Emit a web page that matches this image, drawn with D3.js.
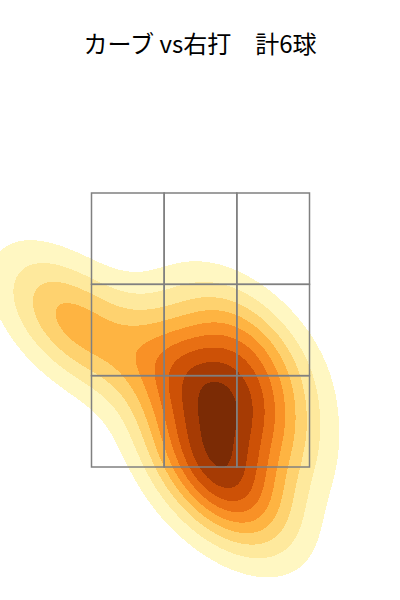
<!DOCTYPE html>
<html>
<head>
<meta charset="utf-8">
<script src="https://cdn.jsdelivr.net/npm/d3@7"></script>
<style>
  body { margin: 0; background: #fff; }
  #chart { width: 400px; height: 600px; }
</style>
</head>
<body>
<div id="chart"></div>
<script>

// pitch locations (feet): horizontal / height at the plate
const pitchX = [-0.98, 0.34, -0.12, 0.35, 0.11, 0.15];
const pitchZ = [2.56, 2.39, 2.17, 1.92, 1.57, 1.33];

// strike zone edges, split in thirds
const zoneX = [-0.83, 0.83];
const zoneZ = [1.5, 3.5];

const title = "カーブ vs右打\u3000計" + pitchX.length + "球";

function drawChart(rootDOM){

	const W = 400;
	const H = 600;
	const cell = 2;

	const x = d3.scaleLinear().domain(zoneX).range([91.5, 309.5]);
	const y = d3.scaleLinear().domain(zoneZ).range([467, 193]);

	const svg = d3.select(rootDOM).append("svg")
		.attr("width", W)
		.attr("height", H);

	// gaussian kde, scott bandwidth from the sample covariance
	const pts = pitchX.map((d,i) => [x(d), y(pitchZ[i])]);
	const n = pts.length;
	const mx = d3.mean(pts, d => d[0]);
	const my = d3.mean(pts, d => d[1]);
	let sxx = 0, syy = 0, sxy = 0;
	pts.forEach(p => {
		sxx += (p[0]-mx)*(p[0]-mx);
		syy += (p[1]-my)*(p[1]-my);
		sxy += (p[0]-mx)*(p[1]-my);
	});
	const f2 = Math.pow(n, -1/3);
	const a = f2*sxx/(n-1), b = f2*sxy/(n-1), c = f2*syy/(n-1);
	const det = a*c - b*b;
	const ia = c/det, ib = -b/det, ic = a/det;
	const norm = 1/(n*2*Math.PI*Math.sqrt(det));

	const nx = W/cell, ny = H/cell;
	const values = new Float64Array(nx*ny);
	for (let j = 0; j < ny; j++) {
		for (let i = 0; i < nx; i++) {
			const gx = (i+0.5)*cell, gy = (j+0.5)*cell;
			let s = 0;
			pts.forEach(p => {
				const dx = gx-p[0], dy = gy-p[1];
				s += Math.exp(-0.5*(ia*dx*dx + 2*ib*dx*dy + ic*dy*dy));
			});
			values[j*nx+i] = s*norm;
		}
	}

	const max = d3.max(values);
	const thresholds = d3.range(1, 10).map(k => k*max/9.5);
	const color = d3.scaleSequential(d3.interpolateYlOrBr).domain([0, max]);

	const contours = d3.contours()
		.size([nx, ny])
		.thresholds(thresholds)(values);

	svg.append("g")
		.selectAll("path")
		.data(contours)
		.join("path")
		.attr("d", d3.geoPath(d3.geoIdentity().scale(cell)))
		.attr("fill", d => color(d.value))
		.attr("shape-rendering", "crispEdges");

	// strike zone 3x3
	const xs = d3.range(4).map(k => x(zoneX[0] + k*(zoneX[1]-zoneX[0])/3));
	const zs = d3.range(4).map(k => y(zoneZ[1] - k*(zoneZ[1]-zoneZ[0])/3));
	const cells = [];
	for (let r = 0; r < 3; r++) for (let q = 0; q < 3; q++) cells.push({r, q});

	svg.append("g")
		.selectAll("rect")
		.data(cells)
		.join("rect")
		.attr("x", d => xs[d.q])
		.attr("y", d => zs[d.r])
		.attr("width", d => xs[d.q+1]-xs[d.q])
		.attr("height", d => zs[d.r+1]-zs[d.r])
		.attr("fill", "none")
		.attr("stroke", "#808080")
		.attr("stroke-width", 1.5);

	svg.append("text")
		.attr("x", W/2)
		.attr("y", 53)
		.attr("text-anchor", "middle")
		.style("font-family", "'Noto Sans CJK JP', 'Noto Sans', sans-serif")
		.style("font-size", "24px")
		.style("fill", "#000")
		.text(title);
}

drawChart(document.getElementById("chart"));
</script>
</body>
</html>
